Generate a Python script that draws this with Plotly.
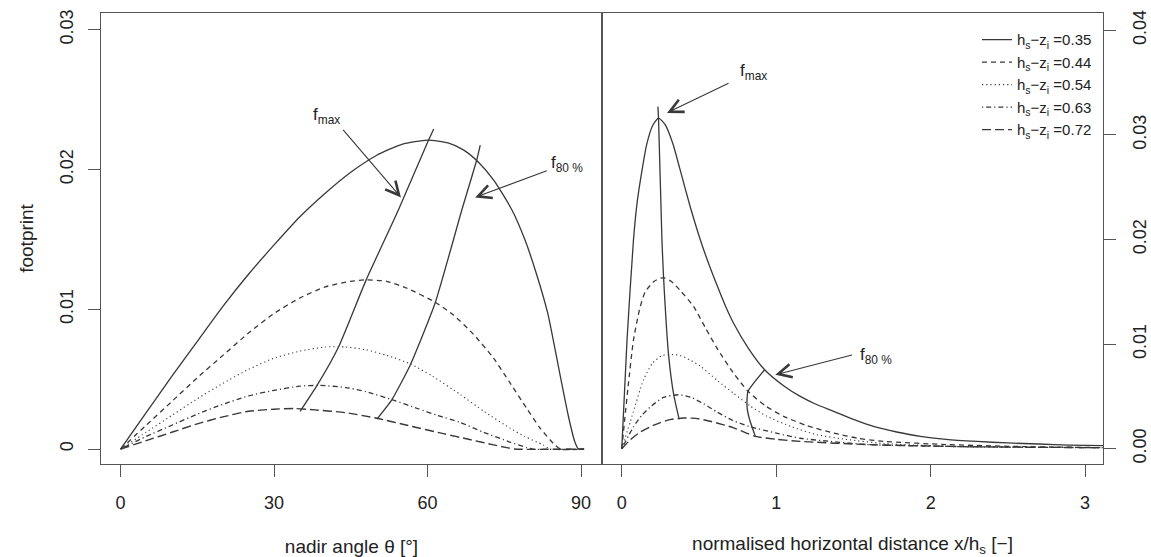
import plotly.graph_objects as go

# ---------------- data ----------------
legend_names = ["h<sub>s</sub>−z<sub>i</sub> =0.35", "h<sub>s</sub>−z<sub>i</sub> =0.44",
                "h<sub>s</sub>−z<sub>i</sub> =0.54", "h<sub>s</sub>−z<sub>i</sub> =0.63",
                "h<sub>s</sub>−z<sub>i</sub> =0.72"]

# left panel: footprint vs nadir angle (deg)
ang_035 = [0, 5, 10, 15, 20, 25, 30, 35, 40, 45, 50, 55, 60, 64, 67, 70, 73, 76.5, 79, 81.4, 83.5, 85.9, 87.5, 88.8, 89.5, 90.6]
fp_035 = [0, 0.0026, 0.0052, 0.0077, 0.0102, 0.0125, 0.0146, 0.0166, 0.0183, 0.0198, 0.0210, 0.0218, 0.0221, 0.0219, 0.0214, 0.0205, 0.0192, 0.0171, 0.0150, 0.0124, 0.0097, 0.0053, 0.0024, 0.0005, 0, 0]
ang_044 = [0, 5, 10, 15, 20, 25, 30, 35, 40, 45, 48, 52, 56, 61.5, 65, 69, 72.9, 76, 79.4, 82, 84.6, 86, 90.6]
fp_044 = [0, 0.0017, 0.0034, 0.0051, 0.0067, 0.0083, 0.0097, 0.0108, 0.0116, 0.0120, 0.0121, 0.0120, 0.0115, 0.0105, 0.0096, 0.0082, 0.0065, 0.0048, 0.0029, 0.0015, 0.0004, 0, 0]
ang_054 = [0, 5, 10, 15, 20, 25, 30, 35, 40, 44, 48, 52, 56.6, 61, 66.4, 71, 76.1, 79, 82.6, 84, 90.6]
fp_054 = [0, 0.0012, 0.0024, 0.0036, 0.0047, 0.0057, 0.0065, 0.0070, 0.0073, 0.0073, 0.0071, 0.0067, 0.0061, 0.0052, 0.0039, 0.0027, 0.0015, 0.0009, 0.0003, 0, 0]
ang_063 = [0, 5, 10, 15, 20, 25, 30, 35, 39, 44, 48, 53.3, 58, 62, 66.4, 71, 76.1, 79.4, 80.5, 90.6]
fp_063 = [0, 0.0009, 0.0017, 0.0025, 0.0032, 0.0038, 0.0042, 0.0045, 0.00455, 0.0044, 0.0041, 0.0035, 0.0029, 0.0024, 0.0019, 0.0012, 0.0005, 0.0001, 0, 0]
ang_072 = [0, 5, 10, 15, 20, 25, 30, 34, 38, 44, 50.1, 56, 63.1, 68, 72.9, 75.5, 77, 90.6]
fp_072 = [0, 0.0006, 0.0012, 0.0018, 0.0023, 0.0027, 0.00285, 0.0029, 0.0028, 0.0026, 0.0022, 0.0017, 0.0011, 0.0007, 0.0003, 0.0001, 0, 0]

fmax_ang = [35.1, 38.4, 42.6, 48.0, 54.3, 60.2, 61.2]
fmax_fp = [0.0027, 0.00455, 0.0073, 0.0121, 0.0171, 0.0221, 0.0229]
f80_ang = [50.1, 53.0, 56.6, 61.5, 66.7, 69.6, 70.3]
f80_fp = [0.00214, 0.00352, 0.0060, 0.01047, 0.0171, 0.02066, 0.02174]

# right panel: footprint vs normalised horizontal distance
dist_035 = [0, 0.034, 0.076, 0.10, 0.131, 0.16, 0.20, 0.238, 0.28, 0.33, 0.379, 0.44, 0.508, 0.56, 0.62, 0.67, 0.724,
            0.82, 0.925, 1.05, 1.156, 1.25, 1.372, 1.5, 1.631, 1.78, 1.933, 2.1, 2.3, 2.5, 2.7, 2.9, 3.12]
fpr_035 = [0, 0.0104, 0.020, 0.0236, 0.0266, 0.0290, 0.0309, 0.0316, 0.0310, 0.0292, 0.0266, 0.0233, 0.0200, 0.0178, 0.0155, 0.0137, 0.0120,
           0.0096, 0.00755, 0.0060, 0.0050, 0.0043, 0.00357, 0.0028, 0.00213, 0.0016, 0.00118, 0.0009, 0.0007, 0.00055, 0.00045, 0.00035, 0.0003]
dist_044 = [0, 0.04, 0.076, 0.115, 0.152, 0.21, 0.25, 0.282, 0.32, 0.38, 0.465, 0.54, 0.617, 0.72, 0.817, 0.93, 1.048, 1.2, 1.372, 1.53, 1.696, 2.1, 2.6, 3.12]
fpr_044 = [0, 0.0058, 0.0104, 0.0133, 0.0150, 0.0160, 0.0163, 0.0163, 0.0160, 0.0151, 0.0136, 0.0116, 0.0096, 0.0073, 0.0055, 0.0041, 0.0031, 0.0022, 0.0015, 0.0010, 0.0007, 0.0004, 0.0002, 0.0001]
dist_054 = [0, 0.066, 0.141, 0.2, 0.26, 0.325, 0.38, 0.44, 0.508, 0.62, 0.724, 0.83, 0.94, 1.1, 1.264, 1.45, 1.696, 2.2, 3.12]
fpr_054 = [0, 0.0031, 0.0066, 0.0082, 0.0089, 0.0090, 0.0089, 0.0085, 0.0079, 0.0065, 0.0053, 0.0041, 0.0031, 0.0021, 0.00134, 0.0009, 0.0005, 0.0002, 0.0001]
dist_063 = [0, 0.076, 0.13, 0.185, 0.27, 0.368, 0.45, 0.53, 0.617, 0.72, 0.832, 1.0, 1.156, 1.35, 1.588, 2.2, 3.12]
fpr_063 = [0, 0.0021, 0.0032, 0.0040, 0.0049, 0.00516, 0.0049, 0.0043, 0.0035, 0.0027, 0.0021, 0.0015, 0.0010, 0.0007, 0.0004, 0.0002, 0.0001]
dist_072 = [0, 0.055, 0.12, 0.185, 0.25, 0.32, 0.40, 0.48, 0.58, 0.724, 0.865, 1.0, 1.156, 1.588, 2.2, 3.12]
fpr_072 = [0, 0.00086, 0.0016, 0.0021, 0.0025, 0.0028, 0.00293, 0.0029, 0.0026, 0.0020, 0.00118, 0.0009, 0.0007, 0.0004, 0.0002, 0.0001]

fmax_dist = [0.372, 0.336, 0.303, 0.271, 0.26, 0.238, 0.234]
fmax_fpr = [0.0028, 0.0052, 0.009, 0.0163, 0.020, 0.0316, 0.0327]
f80_dist = [0.865, 0.828, 0.811, 0.817, 0.925]
f80_fpr = [0.00118, 0.00277, 0.0040, 0.00547, 0.00755]

left_ticks = [0, 30, 60, 90]
right_ticks = [0, 1, 2, 3]
left_yticks = [0, 0.01, 0.02, 0.03]
left_ytext = ["0", "0.01", "0.02", "0.03"]
right_yticks = [0, 0.01, 0.02, 0.03, 0.04]
right_ytext = ["0.00", "0.01", "0.02", "0.03", "0.04"]

# ---------------- styling ----------------
FONT = "Liberation Sans, Arial, Helvetica, sans-serif"
CURVE = "#383838"
AXIS = "#555555"
TEXT = "#222222"
dashes = ["solid", "5px,4px", "1.2px,3px", "1.2px,3px,5px,3px", "9px,4px"]
widths = [1.3, 1.3, 1.1, 1.3, 1.4]

left_series = [(ang_035, fp_035), (ang_044, fp_044), (ang_054, fp_054), (ang_063, fp_063), (ang_072, fp_072)]
right_series = [(dist_035, fpr_035), (dist_044, fpr_044), (dist_054, fpr_054), (dist_063, fpr_063), (dist_072, fpr_072)]

fig = go.Figure()
for i, (xs, ys) in enumerate(left_series):
    fig.add_trace(go.Scatter(x=xs, y=ys, mode="lines", name=legend_names[i], showlegend=False,
                             line=dict(color=CURVE, width=widths[i], dash=dashes[i], shape="spline", smoothing=0.6),
                             xaxis="x", yaxis="y"))
for i, (xs, ys) in enumerate(right_series):
    fig.add_trace(go.Scatter(x=xs, y=ys, mode="lines", name=legend_names[i], showlegend=True,
                             line=dict(color=CURVE, width=widths[i], dash=dashes[i], shape="spline", smoothing=0.6),
                             xaxis="x2", yaxis="y2"))

for xs, ys, xa, ya in [(fmax_ang, fmax_fp, "x", "y"), (f80_ang, f80_fp, "x", "y"),
                       (fmax_dist, fmax_fpr, "x2", "y2"), (f80_dist, f80_fpr, "x2", "y2")]:
    fig.add_trace(go.Scatter(x=xs, y=ys, mode="lines", showlegend=False,
                             line=dict(color=CURVE, width=1.3, shape="spline", smoothing=0.5),
                             xaxis=xa, yaxis=ya))

# labels and arrows
labels = [
    ("f<sub>max</sub>", 37.25, 0.0238, "x", "y"),
    ("f<sub>80 %</sub>", 83.7, 0.0204, "x", "y"),
    ("f<sub>max</sub>", 0.755, 0.0360, "x2", "y2"),
    ("f<sub>80 %</sub>", 1.531, 0.00888, "x2", "y2"),
]
for txt, x, y, xr, yr in labels:
    fig.add_annotation(text=txt, x=x, y=y, xref=xr, yref=yr, showarrow=False,
                       xanchor="left", yanchor="middle",
                       font=dict(family=FONT, size=17, color=TEXT))

arrows = [
    (54.8, 0.0180, 43.25, 0.02293, "x", "y"),
    (69.3, 0.0180, 83.6, 0.01995, "x", "y"),
    (0.293, 0.0321, 0.701, 0.0350, "x2", "y2"),
    (0.994, 0.00707, 1.50, 0.0090, "x2", "y2"),
]
for x, y, ax, ay, xr, yr in arrows:
    fig.add_annotation(text="", x=x, y=y, xref=xr, yref=yr, ax=ax, ay=ay, axref=xr, ayref=yr,
                       showarrow=True, arrowhead=5, arrowsize=2.4, arrowwidth=1.1, arrowcolor=CURVE)

axis_common = dict(showgrid=False, zeroline=False, showline=True, mirror=True, linecolor=AXIS,
                   linewidth=1.3, ticks="outside", ticklen=12, tickwidth=1.3, tickcolor=AXIS,
                   tickfont=dict(family=FONT, size=18, color=TEXT))

fig.update_layout(
    width=1151, height=557,
    margin=dict(l=101, r=48, t=13, b=93, autoexpand=False),
    paper_bgcolor="white", plot_bgcolor="white",
    font=dict(family=FONT, color=TEXT),
    showlegend=True,
    legend=dict(x=0.994, y=0.977, xanchor="right", yanchor="top", bgcolor="rgba(0,0,0,0)",
                font=dict(family=FONT, size=15, color=TEXT), tracegroupgap=0, itemwidth=30),
    xaxis=dict(domain=[0, 0.5], range=[-3.83, 94.1], tickvals=left_ticks, anchor="y",
               title=dict(text="nadir angle θ [°]", font=dict(family=FONT, size=19, color=TEXT), standoff=27),
               ticklabelstandoff=10, **axis_common),
    yaxis=dict(range=[-0.00107, 0.03119], tickvals=left_yticks, ticktext=left_ytext, tickangle=-90,
               anchor="x", title=dict(text="footprint", font=dict(family=FONT, size=19, color=TEXT), standoff=18),
               ticklabelstandoff=8, **axis_common),
    xaxis2=dict(domain=[0.5, 1], range=[-0.128, 3.116], tickvals=right_ticks, anchor="y2",
                title=dict(text="normalised horizontal distance x/h<sub>s</sub> [−]",
                           font=dict(family=FONT, size=19, color=TEXT), standoff=27),
                ticklabelstandoff=10, **axis_common),
    yaxis2=dict(range=[-0.00146, 0.04165], tickvals=right_yticks, ticktext=right_ytext, tickangle=-90,
                anchor="x2", side="right", ticklabelstandoff=8, **axis_common),
)

fig.write_html("out.html", config={"displayModeBar": False},
               post_script="document.body.style.margin='0px';document.body.style.padding='0px';")
